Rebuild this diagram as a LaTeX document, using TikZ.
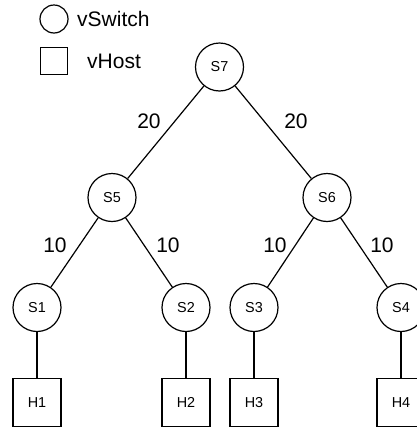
\documentclass[tikz,border=0pt]{standalone}
\usepackage{fontspec}
\setmainfont{Liberation Sans}
\begin{document}
\begin{tikzpicture}[x=1pt,y=-1pt,
  sw/.style={draw,circle,line width=1.2pt,minimum size=48pt,inner sep=0pt,font=\fontsize{14.4}{16}\selectfont},
  hst/.style={draw,rectangle,line width=1.2pt,minimum size=48pt,inner sep=0pt,font=\fontsize{14.4}{16}\selectfont},
  wt/.style={inner sep=0pt,font=\fontsize{21}{24}\selectfont},
  lnk/.style={line width=1.2pt}]
\useasboundingbox (0,0) rectangle (417,429);
% legend
\node[draw,circle,line width=1.2pt,minimum size=28pt,inner sep=0pt] (lc) at (54,19) {};
\node[wt,anchor=west] (lct) at (77,19) {vSwitch};
\node[draw,rectangle,line width=1.2pt,minimum size=27pt,inner sep=0pt] (ls) at (54,61) {};
\node[wt,anchor=west] (lst) at (87,61) {vHost};
% switches
\node[sw] (s7) at (219.5,67) {S7};
\node[sw] (s5) at (112,197.5) {S5};
\node[sw] (s6) at (327,197.5) {S6};
\node[sw] (s1) at (37,307.5) {S1};
\node[sw] (s2) at (186,307.5) {S2};
\node[sw] (s3) at (254,307.5) {S3};
\node[sw] (s4) at (401,307.5) {S4};
% hosts
\node[hst] (h1) at (37,402.5) {H1};
\node[hst] (h2) at (186,402.5) {H2};
\node[hst] (h3) at (254,402.5) {H3};
\node[hst] (h4) at (401,402.5) {H4};
% links
\draw[lnk] (s7) -- (s5);
\draw[lnk] (s7) -- (s6);
\draw[lnk] (s5) -- (s1);
\draw[lnk] (s5) -- (s2);
\draw[lnk] (s6) -- (s3);
\draw[lnk] (s6) -- (s4);
\draw[lnk] (s1) -- (h1);
\draw[lnk] (s2) -- (h2);
\draw[lnk] (s3) -- (h3);
\draw[lnk] (s4) -- (h4);
% weights
\node[wt] (w75) at (149,121.5) {20};
\node[wt] (w76) at (296,121.5) {20};
\node[wt] (w51) at (55,245) {10};
\node[wt] (w52) at (168,245) {10};
\node[wt] (w63) at (275,245) {10};
\node[wt] (w64) at (382,245) {10};
\end{tikzpicture}
\end{document}
